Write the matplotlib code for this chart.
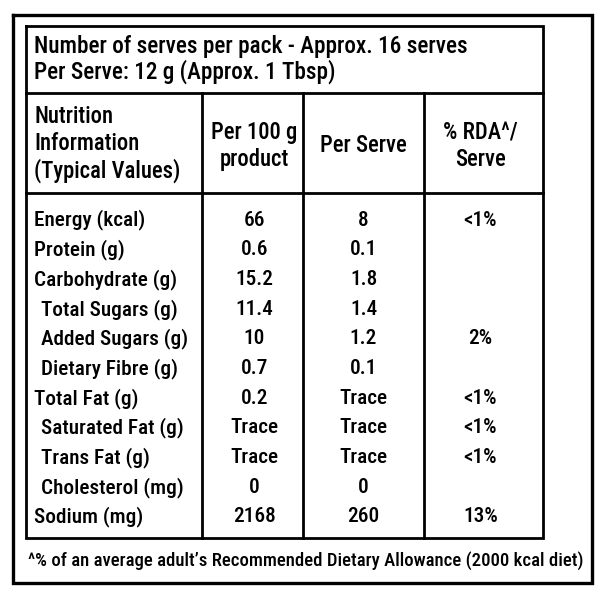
import matplotlib
matplotlib.use("Agg")
import matplotlib.pyplot as plt
from matplotlib import font_manager

_names = {f.name for f in font_manager.fontManager.ttflist}
FONT = "Roboto"
for cand in ["Roboto Condensed", "Liberation Sans Narrow", "Open Sans Condensed"]:
    if cand in _names:
        FONT = cand
        break
WEIGHT = "medium"

title_lines = ["Number of serves per pack - Approx. 16 serves",
               "Per Serve: 12 g (Approx. 1 Tbsp)"]
col_headers = ["Nutrition\nInformation\n(Typical Values)",
               "Per 100 g\nproduct", "Per Serve", "% RDA^/\nServe"]
nutrients = ["Energy (kcal)", "Protein (g)", "Carbohydrate (g)", "Total Sugars (g)",
             "Added Sugars (g)", "Dietary Fibre (g)", "Total Fat (g)",
             "Saturated Fat (g)", "Trans Fat (g)", "Cholesterol (mg)", "Sodium (mg)"]
indent = [0, 0, 0, 1, 1, 1, 0, 1, 1, 1, 0]
per_100g = ["66", "0.6", "15.2", "11.4", "10", "0.7", "0.2", "Trace", "Trace", "0", "2168"]
per_serve = ["8", "0.1", "1.8", "1.4", "1.2", "0.1", "Trace", "Trace", "Trace", "0", "260"]
rda = ["<1%", "", "", "", "2%", "", "<1%", "<1%", "<1%", "", "13%"]
footnote = "^% of an average adult\u2019s Recommended Dietary Allowance (2000 kcal diet)"

fig = plt.figure(figsize=(6, 6), dpi=100)
ax = fig.add_axes([0, 0, 1, 1])
ax.set_xlim(0, 600)
ax.set_ylim(600, 0)
ax.axis("off")
renderer = fig.canvas.get_renderer()


def fit_size(s, target_w, ref=12.0):
    t = fig.text(0, 0, s, family=FONT, fontweight=WEIGHT, fontsize=ref)
    w = t.get_window_extent(renderer).width
    t.remove()
    return ref * target_w / w


# outer border
ax.plot([13, 592, 592, 13, 13], [15, 15, 583, 583, 15], color="black", lw=2.4,
        solid_joinstyle="miter")
# inner table
L, R, T, B = 26, 543, 26, 538
ax.plot([L, R, R, L, L], [T, T, B, B, T], color="black", lw=2.0, solid_joinstyle="miter")
ax.plot([L, R], [92.5, 92.5], color="black", lw=2.0)
ax.plot([L, R], [193, 193], color="black", lw=2.0)
col_x = [202, 303, 424]
for cx in col_x:
    ax.plot([cx, cx], [92.5, B], color="black", lw=2.0)

fs_title = fit_size(title_lines[0], 433)
fs_head = fit_size("(Typical Values)", 146)
fs_row = fit_size("Carbohydrate (g)", 143)
fs_foot = fit_size(footnote, 556)


def kw(fs):
    return dict(family=FONT, fontweight=WEIGHT, color="black", fontsize=fs)


ax.text(34, 46, title_lines[0], ha="left", va="center", **kw(fs_title))
ax.text(34, 72, title_lines[1], ha="left", va="center", **kw(fs_title))

centers = [None, (202 + 303) / 2 + 2, (303 + 424) / 2, (424 + 543) / 2 - 3]
ax.text(34, 144, col_headers[0], ha="left", va="center", linespacing=1.18, **kw(fs_head))
for i in range(1, 4):
    ax.text(centers[i], 146, col_headers[i], ha="center", va="center",
            linespacing=1.18, **kw(fs_head))

y0, dy = 220, 29.7
for i, name in enumerate(nutrients):
    y = y0 + i * dy
    ax.text(34 + 7 * indent[i], y, name, ha="left", va="center", **kw(fs_row))
    ax.text(centers[1], y, per_100g[i], ha="center", va="center", **kw(fs_row))
    ax.text(centers[2], y, per_serve[i], ha="center", va="center", **kw(fs_row))
    if rda[i]:
        ax.text(centers[3], y, rda[i], ha="center", va="center", **kw(fs_row))

ax.text(305.5, 561, footnote, ha="center", va="center", **kw(fs_foot))

fig.savefig("out.png", dpi=100, facecolor="white")
